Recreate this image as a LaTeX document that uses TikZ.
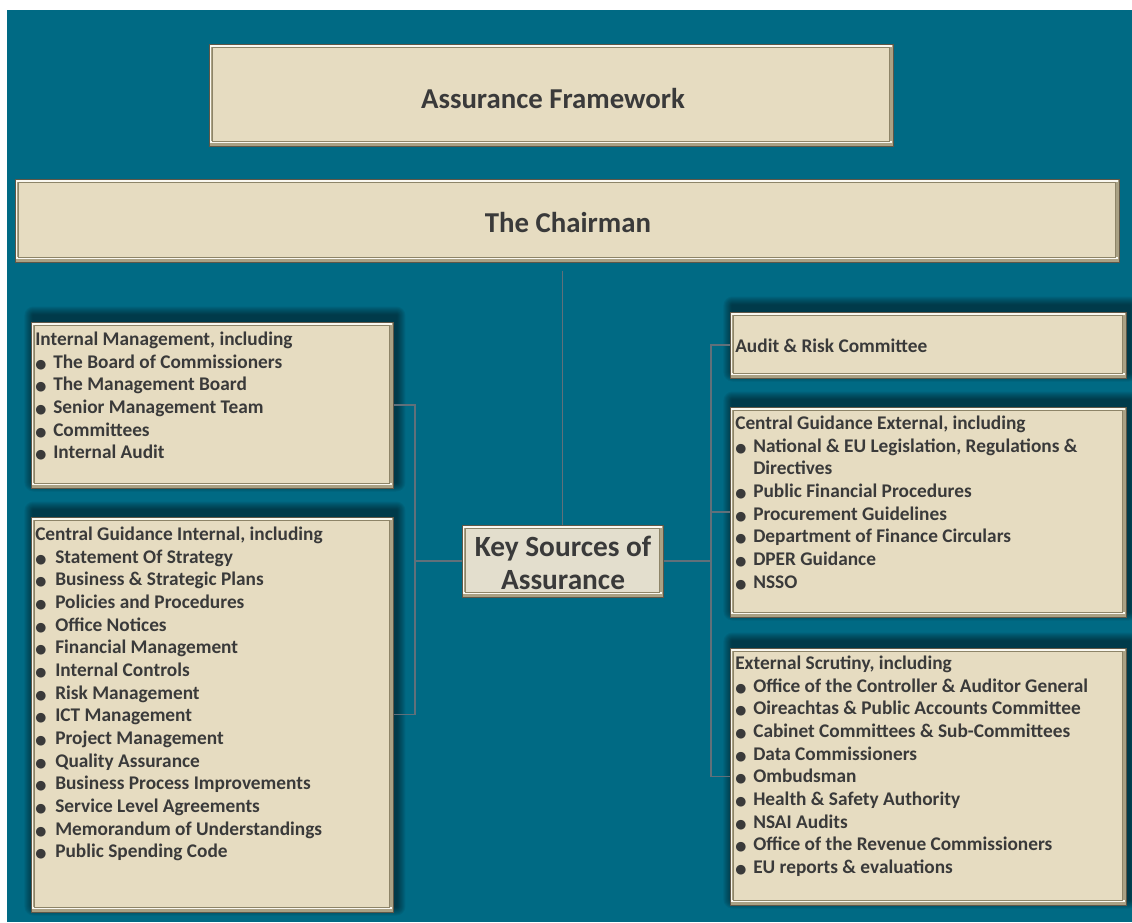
\documentclass[tikz,border=0pt]{standalone}
\usepackage{fontspec}
\setmainfont{Carlito}
\newfontfamily\dotfont{DejaVu Sans}
\usetikzlibrary{fit,backgrounds,calc}

\definecolor{sea}{RGB}{0,106,132}
\definecolor{paper}{RGB}{230,220,193}
\definecolor{keypaper}{RGB}{227,222,205}
\definecolor{frame}{RGB}{170,161,132}
\definecolor{frameline}{RGB}{141,132,104}
\definecolor{edge}{RGB}{95,87,71}
\definecolor{hilite}{RGB}{250,248,240}
\definecolor{ink}{RGB}{58,58,58}
\definecolor{wire}{RGB}{96,112,122}

% bullet item: dot, then the entry text
\newcommand\itm[2][13.5pt]{\makebox[#1][l]{\dotfont\fontsize{9.5}{9.5}\selectfont ●}#2}

\tikzset{
  panel/.style={draw=edge, line width=0.75pt, fill=frame, inner sep=0pt,
    path picture={
      \fill[hilite] ([shift={(0.75pt,-0.6pt)}]path picture bounding box.north west)
        rectangle ([shift={(-0.75pt,-2pt)}]path picture bounding box.north east);
      \fill[hilite] ([shift={(0.75pt,2pt)}]path picture bounding box.south west)
        rectangle ([shift={(-0.75pt,3.4pt)}]path picture bounding box.south east);
      \fill[hilite] ([shift={(0.6pt,-0.6pt)}]path picture bounding box.north west)
        rectangle ([shift={(1.4pt,2pt)}]path picture bounding box.south west);
      \filldraw[fill=#1, draw=frameline, line width=0.5pt]
        ([shift={(2.6pt,-2.6pt)}]path picture bounding box.north west)
        rectangle ([shift={(-2.6pt,3.6pt)}]path picture bounding box.south east);
    }},
  panel/.default=paper,
  titletext/.style={text=ink, font=\bfseries\fontsize{21.6}{26}\selectfont},
  listtext/.style={inner sep=0pt, anchor=north west, align=left, text=ink,
    font=\bfseries\fontsize{14.5}{17}\selectfont},
  wire/.style={draw=wire, line width=1.1pt},
}

\begin{document}
\begin{tikzpicture}[x=0.75pt,y=-0.75pt]
\useasboundingbox (0,0) rectangle (1132,922);

% title bars
\node[panel, fit={(209,44) (893,146)}] (af) {};
\node[titletext] (afT) at (553,98) {Assurance Framework};
\node[panel, fit={(15,179) (1119,262)}] (ch) {};
\node[titletext] (chT) at (568,222) {The Chairman};

% hub
\node[panel=keypaper, fit={(462,525) (663,597)}] (ks) {};
\node[text=ink, align=center, font=\bfseries\fontsize{22}{24.75}\selectfont] (ksT) at (563,563) {Key Sources of\\Assurance};

% left column
\node[panel, fit={(31,322) (393,488)}] (im) {};
\node[listtext] (imT) at (35,331.5) {Internal Management, including\\
  \itm{The Board of Commissioners}\\
  \itm{The Management Board}\\
  \itm{Senior Management Team}\\
  \itm{Committees}\\
  \itm{Internal Audit}};

\node[panel, fit={(31,517) (393,912)}] (cgi) {};
\node[listtext] (cgiT) at (35,526.5) {Central Guidance Internal, including\\
  \itm[15pt]{Statement Of Strategy}\\
  \itm[15pt]{Business \& Strategic Plans}\\
  \itm[15pt]{Policies and Procedures}\\
  \itm[15pt]{Office Notices}\\
  \itm[15pt]{Financial Management}\\
  \itm[15pt]{Internal Controls}\\
  \itm[15pt]{Risk Management}\\
  \itm[15pt]{ICT Management}\\
  \itm[15pt]{Project Management}\\
  \itm[15pt]{Quality Assurance}\\
  \itm[15pt]{Business Process Improvements}\\
  \itm[15pt]{Service Level Agreements}\\
  \itm[15pt]{Memorandum of Understandings}\\
  \itm[15pt]{Public Spending Code}};

% right column
\node[panel, fit={(730,312) (1126,378)}] (ar) {};
\node[listtext] (arT) at (735,338.5) {Audit \& Risk Committee};

\node[panel, fit={(730,407) (1126,617)}] (cge) {};
\node[listtext] (cgeT) at (735,415.5) {Central Guidance External, including\\
  \itm{National \& EU Legislation, Regulations \&}\\
  \hspace*{13.5pt}Directives\\
  \itm{Public Financial Procedures}\\
  \itm{Procurement Guidelines}\\
  \itm{Department of Finance Circulars}\\
  \itm{DPER Guidance}\\
  \itm{NSSO}};

\node[panel, fit={(730,648) (1126,905)}] (es) {};
\node[listtext] (esT) at (735,655.5) {External Scrutiny, including\\
  \itm{Office of the Controller \& Auditor General}\\
  \itm{Oireachtas \& Public Accounts Committee}\\
  \itm{Cabinet Committees \& Sub-Committees}\\
  \itm{Data Commissioners}\\
  \itm{Ombudsman}\\
  \itm{Health \& Safety Authority}\\
  \itm{NSAI Audits}\\
  \itm{Office of the Revenue Commissioners}\\
  \itm{EU reports \& evaluations}};

% connectors
\coordinate (lj) at (415,561);
\coordinate (rj) at (711,561);
\draw[wire] ([yshift=-6pt]ks.north |- ch.south) -- (ks.north);
\draw[wire] (ks.west) -- (ks.west -| lj);
\draw[wire] (im.east) -| (lj) |- (cgi.east);
\draw[wire] (ks.east) -- (ks.east -| rj);
\draw[wire] (ar.west) -| (rj) |- (es.west);
\draw[wire] (cge.west) -- (cge.west -| rj);

% backdrop and soft shadows under the list panels
\begin{pgfonlayer}{background}
  \fill[white] (0,0) rectangle (1132,922);
  \fill[sea] (7,10) rectangle (1132,922);
  \foreach \n in {im,cgi,ar,cge,es}{
    \foreach \k in {1,...,9}{
      \fill[black, opacity=0.06, rounded corners={\k*0.75pt}]
        ([shift={({(2.2-0.75*\k)*1pt},{(4.5+0.75*\k)*1pt})}]\n.north west)
        rectangle ([shift={({(2.2+0.75*\k)*1pt},{(4.5-0.75*\k)*1pt})}]\n.south east);
    }
  }
\end{pgfonlayer}
\end{tikzpicture}
\end{document}
